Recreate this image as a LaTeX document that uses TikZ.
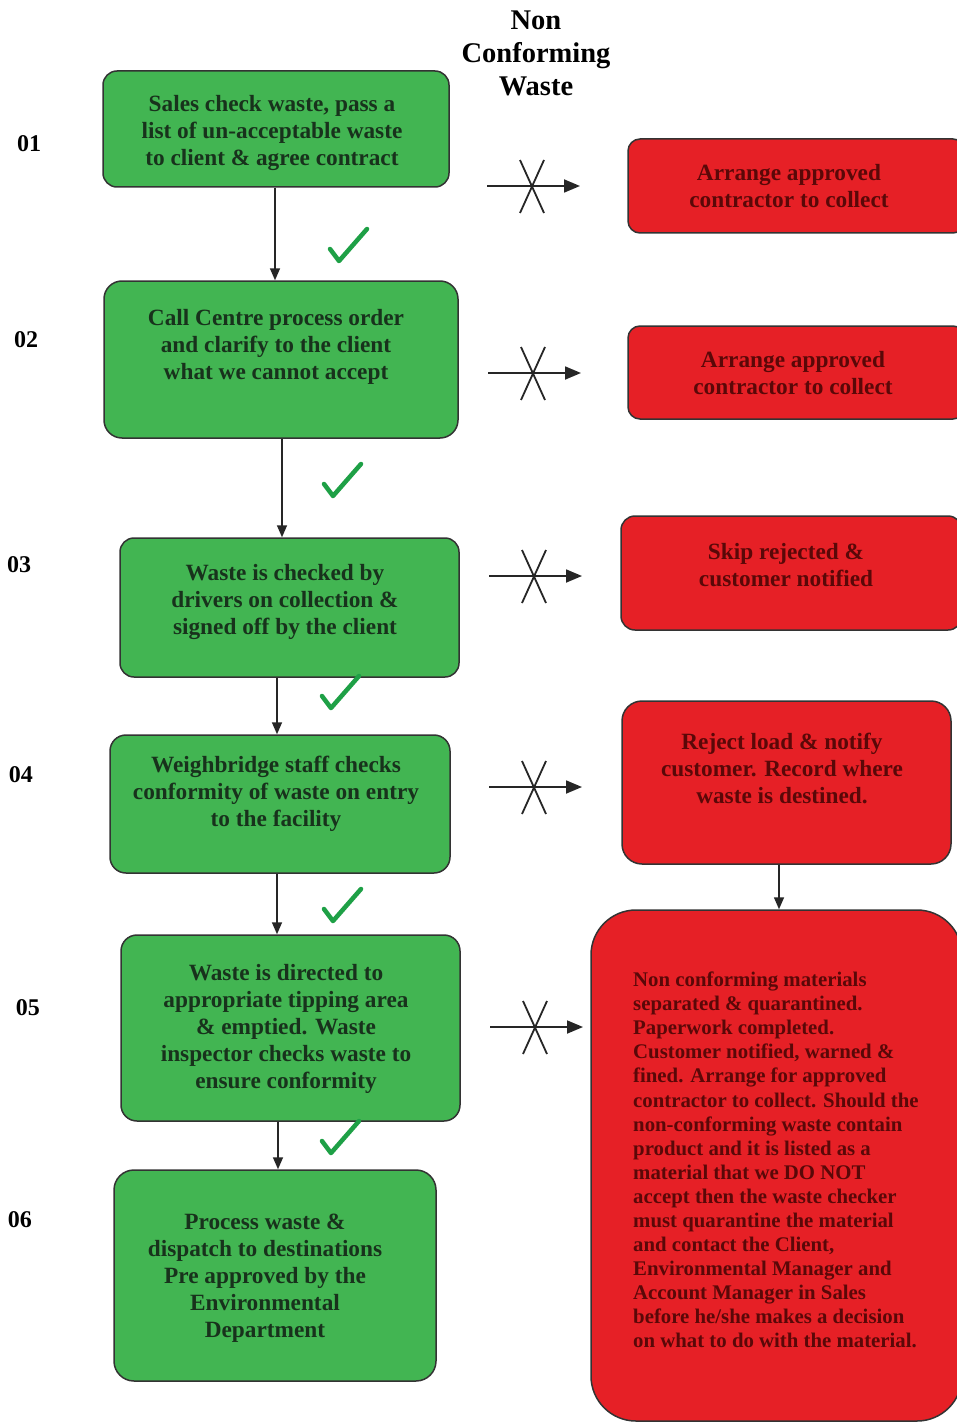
\documentclass[tikz,border=0pt]{standalone}
\usepackage{fontspec}
\setmainfont{Liberation Serif}
\usetikzlibrary{arrows.meta,calc}
\definecolor{gfill}{RGB}{66,181,82}
\definecolor{rfill}{RGB}{230,32,38}
\definecolor{gtxt}{RGB}{24,50,28}
\definecolor{rtxt}{RGB}{90,8,8}
\definecolor{chk}{RGB}{30,160,70}
\tikzset{
  gbox/.style={draw=black!80, line width=1.5pt, fill=gfill, inner sep=0pt},
  rbox/.style={draw=black!80, line width=1.5pt, fill=rfill, inner sep=0pt},
  gtext/.style={text=gtxt, font=\fontsize{23.3}{27}\selectfont\bfseries, align=center, inner sep=0pt},
  rtext/.style={text=rtxt, font=\fontsize{23.3}{27}\selectfont\bfseries, align=center, inner sep=0pt},
  rlong/.style={text=rtxt, font=\fontsize{20.8}{24.07}\selectfont\bfseries, align=left, inner sep=0pt},
  num/.style={font=\fontsize{24}{25}\selectfont\bfseries, inner sep=0pt},
  ttl/.style={font=\fontsize{28.5}{33}\selectfont\bfseries, align=center, inner sep=0pt},
  arr/.style={line width=1.6pt, draw=black!85, -{Triangle[length=12pt,width=10pt]}},
  xarr/.style={line width=1.8pt, draw=black!85, -{Triangle[length=16pt,width=13pt]}},
  xline/.style={line width=1.8pt, draw=black!85},
  greencheck/.pic={\draw[chk, line width=4.5pt, line cap=round, line join=round] (-18,4) -- (-9,16) -- (19,-16);}
}
\begin{document}
\begin{tikzpicture}[x=1pt,y=-1pt]
\clip (0,0) rectangle (957,1423);
\fill[white] (0,0) rectangle (957,1423);

% title
\node[ttl] (title) at (536,53) {Non\\Conforming\\Waste};

% step numbers
\node[num] (n1) at (29,144) {01};
\node[num] (n2) at (26,340) {02};
\node[num] (n3) at (19,565) {03};
\node[num] (n4) at (21,775) {04};
\node[num] (n5) at (28,1008) {05};
\node[num] (n6) at (20,1220) {06};

% green boxes
\node[gbox, rounded corners=14pt, minimum width=346pt, minimum height=116pt] (g1) at (276,129) {};
\node[gtext] (tg1) at (272,133) {Sales check waste, pass a\\list of un-acceptable waste\\to client \& agree contract};
\node[gbox, rounded corners=18pt, minimum width=354pt, minimum height=157pt] (g2) at (281,359.5) {};
\node[gtext] (tg2) at (276,347) {Call Centre process order\\and clarify to the client\\what we cannot accept};
\node[gbox, rounded corners=14pt, minimum width=339pt, minimum height=139pt] (g3) at (289.5,607.5) {};
\node[gtext] (tg3) at (285,602) {Waste is checked by\\drivers on collection \&\\signed off by the client};
\node[gbox, rounded corners=16pt, minimum width=340pt, minimum height=138pt] (g4) at (280,804) {};
\node[gtext] (tg4) at (276,794) {Weighbridge staff checks\\conformity of waste on entry\\to the facility};
\node[gbox, rounded corners=16pt, minimum width=339pt, minimum height=186pt] (g5) at (290.5,1028) {};
\node[gtext] (tg5) at (286,1029) {Waste is directed to\\appropriate tipping area\\\& emptied. Waste\\inspector checks waste to\\ensure conformity};
\node[gbox, rounded corners=20pt, minimum width=322pt, minimum height=211pt] (g6) at (275,1275.5) {};
\node[gtext] (tg6) at (265,1278) {Process waste \&\\dispatch to destinations\\Pre approved by the\\Environmental\\Department};

% red boxes
\node[rbox, rounded corners=12pt, minimum width=337pt, minimum height=94pt] (r1) at (796.5,186) {};
\node[rtext] (tr1) at (789,186) {Arrange approved\\contractor to collect};
\node[rbox, rounded corners=12pt, minimum width=337pt, minimum height=93pt] (r2) at (796.5,372.5) {};
\node[rtext] (tr2) at (793,373) {Arrange approved\\contractor to collect};
\node[rbox, rounded corners=14pt, minimum width=341pt, minimum height=114pt] (r3) at (791.5,573) {};
\node[rtext] (tr3) at (786,565) {Skip rejected \&\\customer notified};
\node[rbox, rounded corners=20pt, minimum width=329pt, minimum height=163pt] (r4) at (786.5,782.5) {};
\node[rtext] (tr4) at (782,768) {Reject load \& notify\\customer. Record where\\waste is destined.};
\node[rbox, rounded corners=45pt, minimum width=371pt, minimum height=511pt] (r5) at (776.5,1165.5) {};
\node[rlong, anchor=west] (tr5) at (633,1160) {Non conforming materials\\separated \& quarantined.\\Paperwork completed.\\Customer notified, warned \&\\fined. Arrange for approved\\contractor to collect. Should the\\non-conforming waste contain\\product and it is listed as a\\material that we DO NOT\\accept then the waste checker\\must quarantine the material\\and contact the Client,\\Environmental Manager and\\Account Manager in Sales\\before he/she makes a decision\\on what to do with the material.};

% vertical connectors
\coordinate (x275) at (275,0);
\coordinate (x282) at (282,0);
\coordinate (x277) at (277,0);
\coordinate (x278) at (278,0);
\coordinate (x779) at (779,0);
\draw[arr] (g1.south -| x275) -- (g2.north -| x275);
\draw[arr] (g2.south -| x282) -- (g3.north -| x282);
\draw[arr] (g3.south -| x277) -- (g4.north -| x277);
\draw[arr] (g4.south -| x277) -- (g5.north -| x277);
\draw[arr] (g5.south -| x278) -- (g6.north -| x278);
\draw[arr] (r4.south -| x779) -- (r5.north -| x779);

% check marks
\pic at (348,245) {greencheck};
\pic at (342,480) {greencheck};
\pic at (340,692) {greencheck};
\pic at (342,905) {greencheck};
\pic at (340,1137) {greencheck};

% crossed (non-conforming) arrows
\foreach \i/\x/\y in {1/487/186, 2/488/373, 3/489/576, 4/489/787, 5/490/1027} {
  \coordinate (s\i) at (\x,\y);
  \coordinate (e\i) at (\x+93,\y);
  \draw[xarr] (s\i) -- (e\i);
  \draw[xline] ($(s\i)+(33,-26)$) -- ($(s\i)+(57,27)$);
  \draw[xline] ($(s\i)+(57,-26)$) -- ($(s\i)+(33,27)$);
}
\end{tikzpicture}
\end{document}
